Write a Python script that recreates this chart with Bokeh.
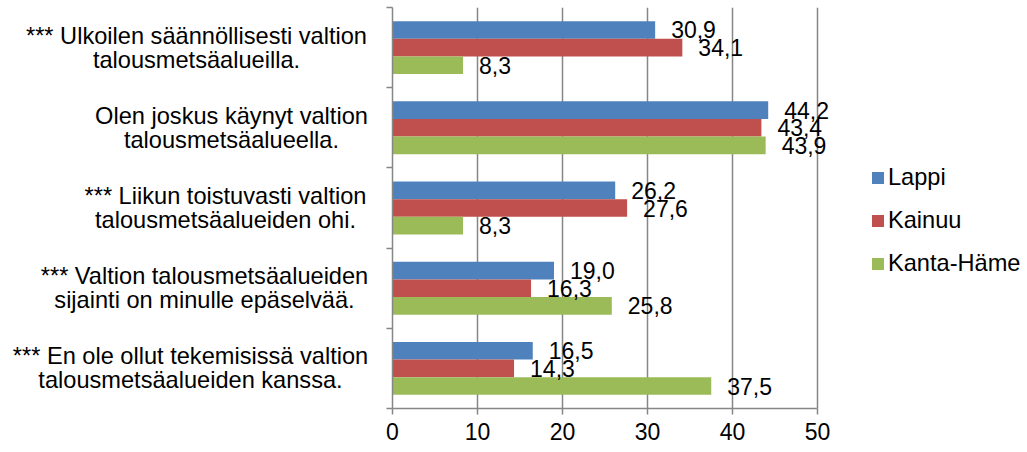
from bokeh.plotting import figure
from bokeh.layouts import row
from bokeh.models import (Range1d, ColumnDataSource, LabelSet, Legend,
                          LegendItem, FixedTicker)
from bokeh.core.properties import value
from bokeh.embed import file_html
from bokeh.resources import INLINE

categories = [
    "*** Ulkoilen säännöllisesti valtion\ntalousmetsäalueilla.",
    "Olen joskus käynyt valtion\ntalousmetsäalueella.",
    "*** Liikun toistuvasti valtion\ntalousmetsäalueiden ohi.",
    "*** Valtion talousmetsäalueiden\nsijainti on minulle epäselvää.",
    "*** En ole ollut tekemisissä valtion\ntalousmetsäalueiden kanssa.",
]
series_names = ["Lappi", "Kainuu", "Kanta-Häme"]
lappi = [30.9, 44.2, 26.2, 19.0, 16.5]
kainuu = [34.1, 43.4, 27.6, 16.3, 14.3]
kanta_hame = [8.3, 43.9, 8.3, 25.8, 37.5]
x_ticks = [0, 10, 20, 30, 40, 50]

colors = ["#4F81BD", "#C0504D", "#9BBB59"]
FONT = "Liberation Sans"
FS = "23px"
FS_CAT = "23.6px"
GRID = "#868686"

n = len(categories)
TOP = 7
BOTTOM = 42
FRAME_H = 401
LEFT_W = 370

y_range = Range1d(n, 0)

# ---- left panel with category labels (centred multi-line text) ----
left = figure(frame_width=LEFT_W, frame_height=FRAME_H, x_range=Range1d(0, LEFT_W),
              y_range=y_range, x_axis_type=None, y_axis_type=None,
              output_backend="svg", toolbar_location=None,
              min_border_left=0, min_border_right=0,
              min_border_top=TOP, min_border_bottom=BOTTOM)
left.outline_line_color = None
left.grid.visible = False
label_centers = [196, 231, 225, 204, 190]
left.text(x=label_centers, y=[i + 0.5 for i in range(n)], text=categories,
          text_align="center", text_baseline="middle",
          text_font=value(FONT), text_font_size=value(FS_CAT), text_color="black",
          text_line_height=0.92)

# ---- main chart ----
frame_w = 468
x_max = 50 * frame_w / 425
p = figure(frame_width=frame_w, frame_height=FRAME_H, x_range=Range1d(0, x_max),
           y_range=y_range, output_backend="svg", toolbar_location=None,
           min_border_left=22, min_border_right=0, min_border_top=TOP,
           min_border_bottom=BOTTOM)
p.outline_line_color = None

p.ygrid.visible = False
p.xgrid.ticker = FixedTicker(ticks=x_ticks)
p.xgrid.grid_line_color = GRID
p.xgrid.grid_line_width = 1.5

xa = p.xaxis[0]
xa.ticker = FixedTicker(ticks=x_ticks)
xa.bounds = (0, 50)
xa.axis_line_color = GRID
xa.axis_line_width = 1.5
xa.major_tick_line_color = GRID
xa.major_tick_line_width = 1.5
xa.major_tick_in = 0
xa.major_tick_out = 6
xa.minor_tick_line_color = None
xa.major_label_text_font = FONT
xa.major_label_text_font_size = FS
xa.major_label_text_color = "black"
xa.major_label_standoff = 8

ya = p.yaxis[0]
ya.ticker = FixedTicker(ticks=list(range(n + 1)))
ya.major_label_overrides = {i: "" for i in range(n + 1)}
ya.axis_line_color = GRID
ya.axis_line_width = 1.5
ya.major_tick_line_color = GRID
ya.major_tick_line_width = 1.5
ya.major_tick_in = 0
ya.major_tick_out = 6
ya.minor_tick_line_color = None
ya.major_label_standoff = 0

bar_h = 0.22
items = []
for j, (name, vals) in enumerate(zip(series_names, [lappi, kainuu, kanta_hame])):
    ys = [i + 0.5 + (j - 1) * bar_h for i in range(n)]
    src = ColumnDataSource(dict(
        x=vals, y=ys, label=[f"{v:.1f}".replace(".", ",") for v in vals]))
    r = p.hbar(y="y", right="x", left=0, height=bar_h, source=src,
               fill_color=colors[j], line_color=None)
    items.append(LegendItem(label=name, renderers=[r]))
    p.add_layout(LabelSet(x="x", y="y", text="label", source=src, x_offset=16,
                          text_baseline="middle", text_align="left",
                          text_font=value(FONT), text_font_size=value(FS),
                          text_color="black"))

legend = Legend(items=items, location=(10, 131), orientation="vertical",
                glyph_width=15, glyph_height=15, label_standoff=3, spacing=16,
                padding=0, margin=0, border_line_color=None,
                background_fill_alpha=0, label_text_font=FONT,
                label_text_font_size=FS_CAT, label_text_color="black")
p.add_layout(legend, "right")

layout = row(left, p, spacing=0)
open("out.html", "w").write(file_html(layout, INLINE))
